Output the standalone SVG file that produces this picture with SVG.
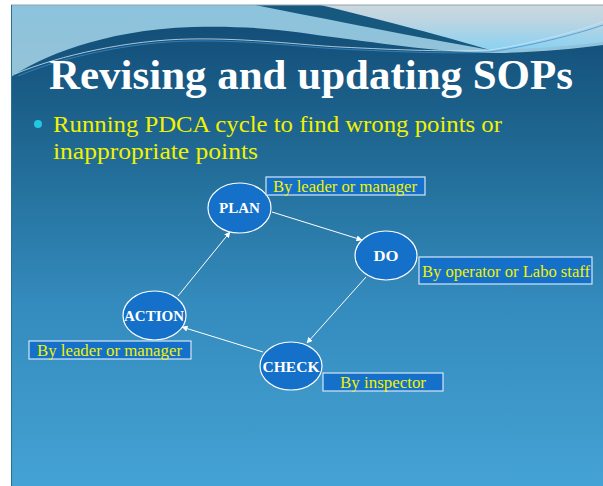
<svg xmlns="http://www.w3.org/2000/svg" width="603" height="486" viewBox="0 0 603 486">
  <defs>
    <linearGradient id="skyTop" x1="0" y1="0" x2="0" y2="1">
      <stop offset="0" stop-color="#8cc3dc"/>
      <stop offset="0.55" stop-color="#a9c3cf"/>
      <stop offset="1" stop-color="#c9cbcb"/>
    </linearGradient>
    <linearGradient id="skyRight" x1="0" y1="0" x2="0" y2="1">
      <stop offset="0" stop-color="#ccd8de"/>
      <stop offset="0.35" stop-color="#bcd5e2"/>
      <stop offset="1" stop-color="#8ad1f1"/>
    </linearGradient>
    <linearGradient id="body" x1="0" y1="30" x2="0" y2="486" gradientUnits="userSpaceOnUse">
      <stop offset="0" stop-color="#134f79"/>
      <stop offset="0.25" stop-color="#1f6892"/>
      <stop offset="0.6" stop-color="#348bbd"/>
      <stop offset="1" stop-color="#45a2d4"/>
    </linearGradient>
    <marker id="arrow" viewBox="0 0 6 6" refX="5.5" refY="3" markerWidth="6" markerHeight="6" orient="auto" markerUnits="userSpaceOnUse">
      <path d="M0,0 L6,3 L0,6 Z" fill="#ffffff"/>
    </marker>
    <style>
      .node { fill: #1470c8; stroke: #ffffff; stroke-width: 1.2; }
      .ntext { font-family: "Liberation Serif", serif; font-weight: bold; font-size: 15px; fill: #ffffff; text-anchor: middle; }
      .lbox { fill: #1470c8; stroke: #d4e6f4; stroke-width: 1.2; }
      .ltext { font-family: "Liberation Serif", serif; font-size: 16.5px; fill: #f2f200; }
      .edge { stroke: #ffffff; stroke-width: 1; fill: none; marker-end: url(#arrow); }
    </style>
  </defs>

  <!-- slide background and header waves -->
  <rect x="11" y="5" width="592" height="481" fill="url(#skyTop)"/>
  <path d="M320,5 L603,5 L603,42 C570,46 530,49 490,50 C450,38 383,20 320,5 Z" fill="url(#skyRight)"/>
  <path d="M255,5 L320,5 C383,20 450,38 490,50 C433,40 367,27 300,14 C285,11 270,8 255,5 Z" fill="#17587f"/>
  <path d="M11,77 C40,58 100,30 193,27 C260,25 300,33 340,38 C400,46 450,53 500,53 C540,52 575,49 603,45 L603,486 L11,486 Z" fill="url(#body)"/>
  <path d="M15,74 C60,55 130,40 190,39 C250,38 300,45 340,47 C400,50 450,52 490,50 C540,42 580,30 603,22" fill="none" stroke="#cfe4ef" stroke-width="1" opacity="0.8"/>
  <path d="M18,76 C62,57 132,42 190,41 C250,40 300,47 340,49 C400,52 450,54 490,52 C540,44 580,33 603,25" fill="none" stroke="#3b8fd0" stroke-width="0.8" opacity="0.9"/>
  <line x1="11" y1="5" x2="603" y2="5" stroke="#8ea4b0" stroke-width="1"/>
  <line x1="11.5" y1="5" x2="11.5" y2="486" stroke="#2d6f93" stroke-width="1"/>

  <!-- title and bullet -->
  <text x="49" y="89" font-family="Liberation Serif, serif" font-weight="bold" font-size="42" fill="#ffffff" textLength="524" lengthAdjust="spacingAndGlyphs">Revising and updating SOPs</text>
  <circle cx="38" cy="124" r="4" fill="#22c8e0"/>
  <text x="53" y="132" font-family="Liberation Serif, serif" font-size="24" fill="#f2f200" textLength="449" lengthAdjust="spacingAndGlyphs">Running PDCA cycle to find wrong points or</text>
  <text x="53" y="159" font-family="Liberation Serif, serif" font-size="24" fill="#f2f200" textLength="205" lengthAdjust="spacingAndGlyphs">inappropriate points</text>

  <!-- connectors -->
  <g id="connectors">
    <line class="edge" x1="272" y1="212" x2="362" y2="240"/>
    <line class="edge" x1="366" y1="277" x2="307" y2="343"/>
    <line class="edge" x1="263" y1="352" x2="182" y2="327"/>
    <line class="edge" x1="178" y1="296" x2="230" y2="232"/>
  </g>

  <!-- PDCA nodes -->
  <g id="plan">
    <ellipse class="node" cx="239.5" cy="208" rx="31.5" ry="25"/>
    <text class="ntext" x="239.5" y="213" textLength="41" lengthAdjust="spacingAndGlyphs">PLAN</text>
    <rect class="lbox" x="266" y="177" width="159" height="18"/>
    <text class="ltext" x="273" y="191.5" textLength="144" lengthAdjust="spacingAndGlyphs">By leader or manager</text>
  </g>
  <g id="do">
    <ellipse class="node" cx="386" cy="255.5" rx="31" ry="24.5"/>
    <text class="ntext" x="386" y="261" textLength="25" lengthAdjust="spacingAndGlyphs">DO</text>
    <rect class="lbox" x="419" y="257" width="173" height="27"/>
    <text class="ltext" x="422" y="276.5" textLength="168" lengthAdjust="spacingAndGlyphs">By operator or Labo staff</text>
  </g>
  <g id="check">
    <ellipse class="node" cx="291" cy="366" rx="31" ry="24"/>
    <text class="ntext" x="291" y="371.5" textLength="57" lengthAdjust="spacingAndGlyphs">CHECK</text>
    <rect class="lbox" x="323" y="373" width="120" height="18"/>
    <text class="ltext" x="340" y="387.5" textLength="86" lengthAdjust="spacingAndGlyphs">By inspector</text>
  </g>
  <g id="action">
    <ellipse class="node" cx="154.5" cy="315.5" rx="31.5" ry="24.5"/>
    <text class="ntext" x="154" y="320.5" textLength="60" lengthAdjust="spacingAndGlyphs">ACTION</text>
    <rect class="lbox" x="29" y="341" width="162" height="18"/>
    <text class="ltext" x="37" y="355.5" textLength="145" lengthAdjust="spacingAndGlyphs">By leader or manager</text>
  </g>
</svg>
